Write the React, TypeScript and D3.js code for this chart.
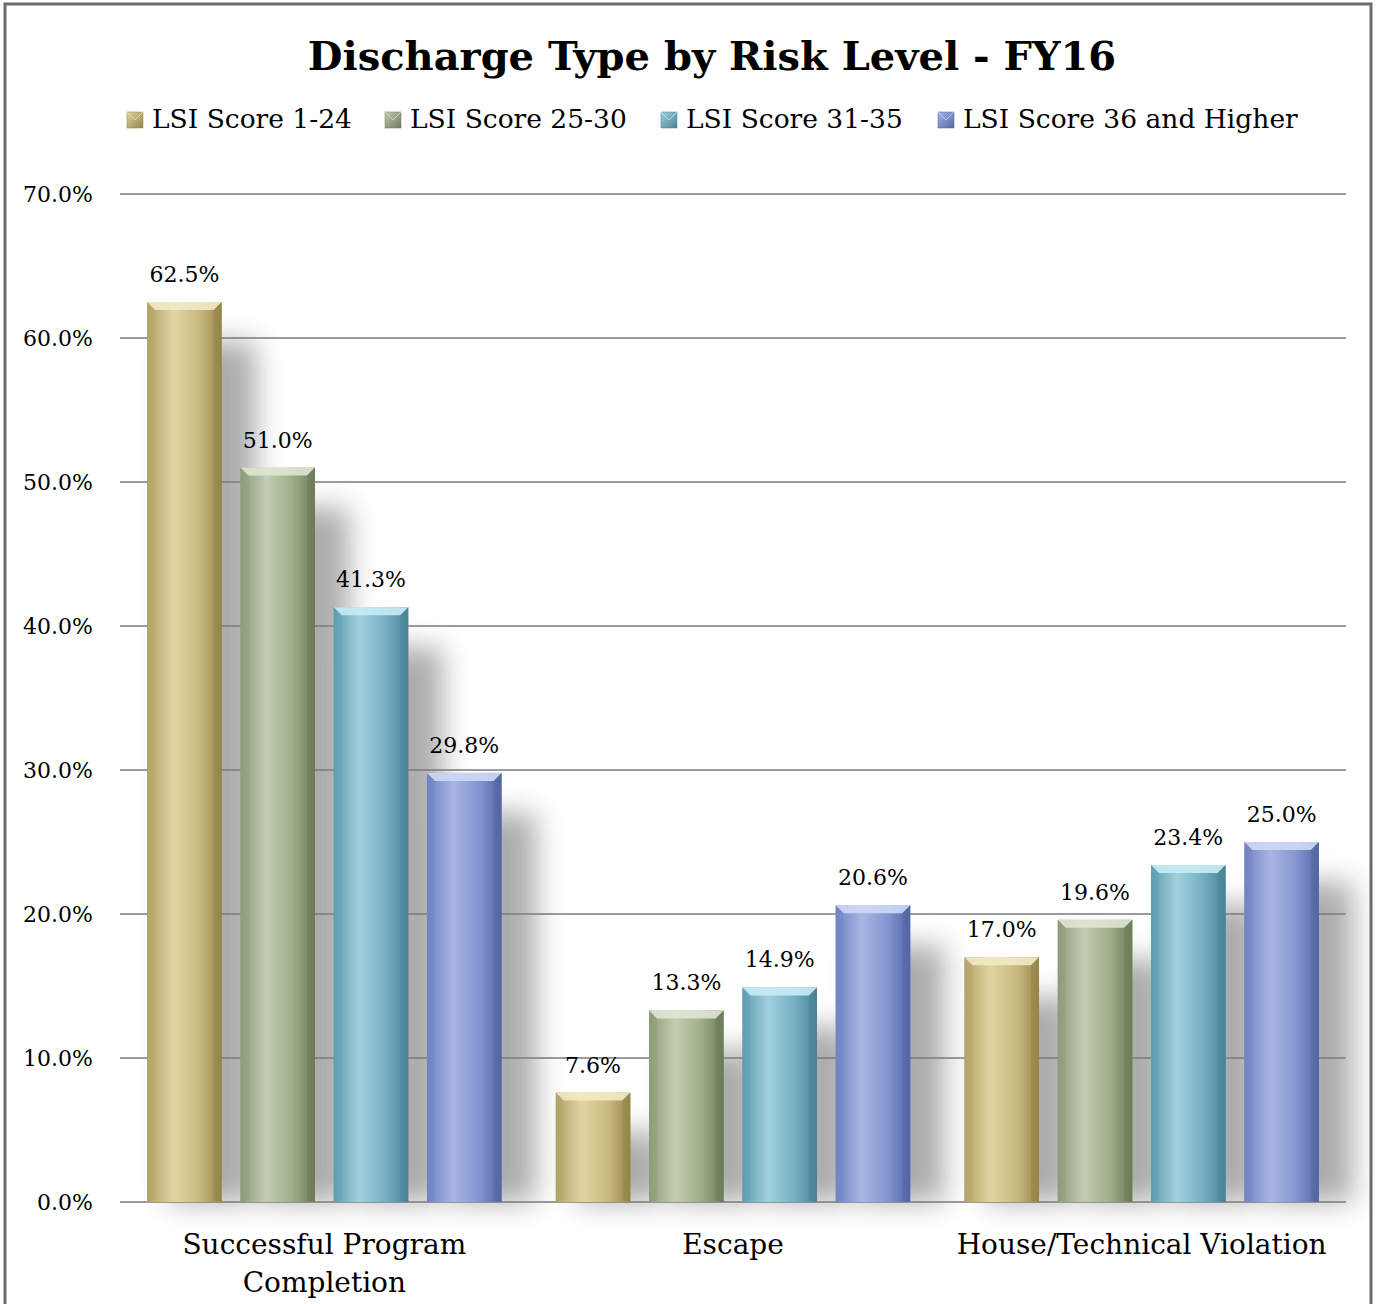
import React from "react";
import * as d3 from "d3";

const categories = ["Successful Program Completion", "Escape", "House/Technical Violation"];
const categoryLines = [["Successful Program", "Completion"], ["Escape"], ["House/Technical Violation"]];
const seriesNames = ["LSI Score 1-24", "LSI Score 25-30", "LSI Score 31-35", "LSI Score 36 and Higher"];
const lsi1to24 = [62.5, 7.6, 17.0];
const lsi25to30 = [51.0, 13.3, 19.6];
const lsi31to35 = [41.3, 14.9, 23.4];
const lsi36plus = [29.8, 20.6, 25.0];
const yTicks = [0, 10, 20, 30, 40, 50, 60, 70];

const seriesValues = [lsi1to24, lsi25to30, lsi31to35, lsi36plus];

const palettes = [
  { edge: "#b2a266", light: "#e0d4a2", dark: "#958448", top: "#f2eac4", base: "#c9ba80" },
  { edge: "#8d9c78", light: "#c3ccb2", dark: "#6c7b58", top: "#dfe6d2", base: "#9fae88" },
  { edge: "#5e9db0", light: "#a2d0dd", dark: "#4a8395", top: "#c8ecf6", base: "#74afc1" },
  { edge: "#7083c2", light: "#a9b5e2", dark: "#5266a6", top: "#cfd8f6", base: "#8396d0" },
];

const FONT = "'DejaVu Serif', serif";

export default function App() {
  const W = 1376, H = 1304;
  const left = 120, right = 1346;
  const y = d3.scaleLinear().domain([0, 70]).range([1202, 194]);
  const x0 = d3.scaleBand<string>().domain(categories).range([left, right]).padding(0);
  const x1 = d3.scaleBand<string>().domain(seriesNames).range([0, x0.bandwidth()]).paddingInner(0.2).paddingOuter(0.29);
  const bw = x1.bandwidth();
  const bev = 8;

  const bars: any[] = [];
  categories.forEach((c, ci) => {
    seriesNames.forEach((s, si) => {
      const v = seriesValues[si][ci];
      const bx = (x0(c) as number) + (x1(s) as number);
      const by = y(v);
      bars.push({ c, s, si, v, bx, by, h: y(0) - by });
    });
  });

  const legendX = [127, 385, 661, 938];

  return (
    <svg width={W} height={H} style={{ position: "absolute", left: 0, top: 0, background: "#fff" }}>
      <defs>
        {palettes.map((p, i) => (
          <linearGradient key={i} id={`g${i}`} x1="0" x2="1" y1="0" y2="0">
            <stop offset="0" stopColor={p.edge} />
            <stop offset="0.35" stopColor={p.light} />
            <stop offset="0.7" stopColor={p.base} />
            <stop offset="1" stopColor={p.dark} />
          </linearGradient>
        ))}
        {palettes.map((p, i) => (
          <linearGradient key={i} id={`lg${i}`} x1="0" x2="1" y1="0" y2="1">
            <stop offset="0" stopColor={p.light} />
            <stop offset="1" stopColor={p.dark} />
          </linearGradient>
        ))}
        <filter id="shadow" x="-50%" y="-50%" width="200%" height="200%">
          <feGaussianBlur stdDeviation="14" />
        </filter>
      </defs>
      <rect x={5} y={4} width={1366} height={1320} fill="#fff" stroke="#6b6b6b" strokeWidth={3} />

      <text x={712} y={70} textAnchor="middle" fontFamily={FONT} fontWeight="bold" fontSize={40} fill="#000">
        Discharge Type by Risk Level - FY16
      </text>

      {seriesNames.map((s, i) => (
        <g key={s}>
          <rect x={legendX[i]} y={112} width={16} height={16} fill={`url(#lg${i})`} stroke={palettes[i].dark} strokeWidth={0.5} />
          <path d={`M${legendX[i]},${112}L${legendX[i] + 8},${120}L${legendX[i] + 16},${112}`} fill="none" stroke={palettes[i].top} strokeWidth={1} opacity={0.7} />
          <text x={legendX[i] + 25} y={128} fontFamily={FONT} fontSize={26.5} fill="#000">{s}</text>
        </g>
      ))}

      <g>
        {bars.map((b, i) => (
          <rect key={"s" + i} x={b.bx + 22} y={b.by + 40} width={bw + 12} height={Math.max(0, b.h - 40)} fill="#808080" opacity={0.65} filter="url(#shadow)" />
        ))}
      </g>

      {yTicks.map((t) => (
        <g key={t}>
          <line x1={left} x2={right} y1={y(t)} y2={y(t)} stroke="#7a7a7a" strokeWidth={1.5} />
          <text x={93} y={y(t) + 8} textAnchor="end" fontFamily={FONT} fontSize={22} fill="#000">
            {d3.format(".1f")(t) + "%"}
          </text>
        </g>
      ))}

      {bars.map((b, i) => {
        const p = palettes[b.si];
        const { bx, by, h } = b;
        return (
          <g key={"b" + i}>
            <rect x={bx} y={by} width={bw} height={h} fill={`url(#g${b.si})`} />
            <path d={`M${bx},${by}L${bx + bw},${by}L${bx + bw - bev},${by + bev}L${bx + bev},${by + bev}Z`} fill={p.top} opacity={0.9} />
            <path d={`M${bx},${by}L${bx + bev},${by + bev}L${bx + bev},${by + h - 2}L${bx},${by + h}Z`} fill={p.edge} opacity={0.35} />
            <path d={`M${bx + bw},${by}L${bx + bw - bev},${by + bev}L${bx + bw - bev},${by + h - 2}L${bx + bw},${by + h}Z`} fill={p.dark} opacity={0.5} />
            <text x={bx + bw / 2} y={by - 20} textAnchor="middle" fontFamily={FONT} fontSize={22} fill="#000">
              {d3.format(".1f")(b.v) + "%"}
            </text>
          </g>
        );
      })}

      {categories.map((c, ci) => (
        <text key={c} x={(x0(c) as number) + x0.bandwidth() / 2} y={1254} textAnchor="middle" fontFamily={FONT} fontSize={28} fill="#000">
          {categoryLines[ci].map((ln, li) => (
            <tspan key={li} x={(x0(c) as number) + x0.bandwidth() / 2} dy={li === 0 ? 0 : 38}>{ln}</tspan>
          ))}
        </text>
      ))}
    </svg>
  );
}
